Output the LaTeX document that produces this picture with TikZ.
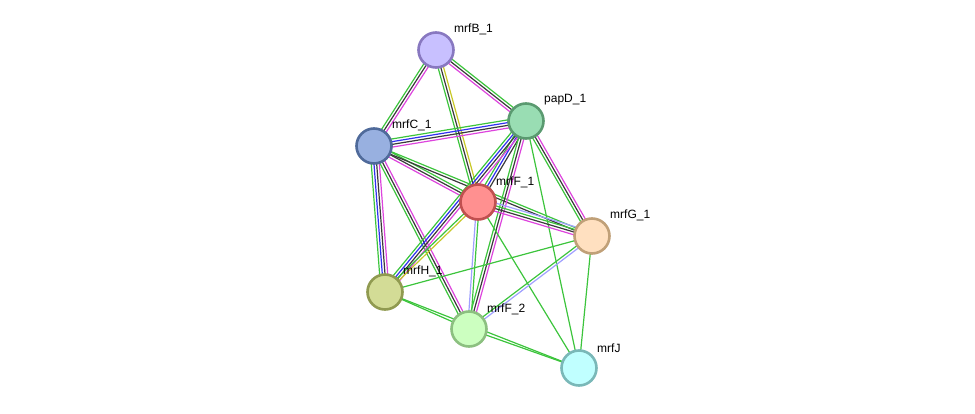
\documentclass[tikz,border=0pt]{standalone}
\usepackage{fontspec}
\setsansfont{Liberation Sans}
\usetikzlibrary{calc, backgrounds}

\definecolor{evgreen}{HTML}{3CC43C}
\definecolor{evblack}{HTML}{3A3A3A}
\definecolor{evmagenta}{HTML}{DD44DD}
\definecolor{evblue}{HTML}{3030F0}
\definecolor{evlight}{HTML}{A0A0FF}
\definecolor{evyellow}{HTML}{C8C828}

\definecolor{ProteinB}{HTML}{C8C0FF}
\definecolor{ProteinBd}{HTML}{8878C0}
\definecolor{ProteinD}{HTML}{99DDB3}
\definecolor{ProteinDd}{HTML}{5A9A70}
\definecolor{ProteinC}{HTML}{98B0E0}
\definecolor{ProteinCd}{HTML}{4F6A9A}
\definecolor{ProteinF}{HTML}{FF9090}
\definecolor{ProteinFd}{HTML}{C05050}
\definecolor{ProteinG}{HTML}{FFE0C0}
\definecolor{ProteinGd}{HTML}{C0A078}
\definecolor{ProteinH}{HTML}{D3DC96}
\definecolor{ProteinHd}{HTML}{909A50}
\definecolor{ProteinFF}{HTML}{CCFFC0}
\definecolor{ProteinFFd}{HTML}{8CC080}
\definecolor{ProteinJ}{HTML}{C0FFFF}
\definecolor{ProteinJd}{HTML}{7AB8B8}

% n parallel evidence lines between two proteins
\newcommand\link[4]{%
  \foreach \c [count=\i] in {#4} {
    \pgfmathsetmacro\off{(\i-(#3+1)/2)*2.7}
    \draw[evidence, \c] ($(#1.center)!\off pt!90:(#2.center)$) -- ($(#2.center)!\off pt!-90:(#1.center)$);
  }%
}

\begin{document}
\begin{tikzpicture}[
    x=1pt, y=-1pt,
    protein/.style={draw, circle, line width=2.6pt, minimum size=35pt, inner sep=0pt},
    tag/.style={anchor=west, inner sep=0pt, font=\sffamily\fontsize{12}{14}\selectfont},
    evidence/.style={line width=1.2pt}
]
    \useasboundingbox (0,0) rectangle (975,414);

    \node[protein, fill=ProteinB, draw=ProteinBd] (mrfB) at (436,50) {};
    \node[protein, fill=ProteinD, draw=ProteinDd] (papD) at (526,121) {};
    \node[protein, fill=ProteinC, draw=ProteinCd] (mrfC) at (374,146) {};
    \node[protein, fill=ProteinF, draw=ProteinFd] (mrfF1) at (478,202) {};
    \node[protein, fill=ProteinG, draw=ProteinGd] (mrfG) at (592,236) {};
    \node[protein, fill=ProteinH, draw=ProteinHd] (mrfH) at (385,292) {};
    \node[protein, fill=ProteinFF, draw=ProteinFFd] (mrfF2) at (469,329) {};
    \node[protein, fill=ProteinJ, draw=ProteinJd] (mrfJ) at (579,368) {};

    \node[tag] at ($(mrfB)+(18,-21)$) {mrfB\_1};
    \node[tag] at ($(papD)+(18,-21)$) {papD\_1};
    \node[tag] at ($(mrfC)+(18,-21)$) {mrfC\_1};
    \node[tag] at ($(mrfF1)+(18,-20)$) {mrfF\_1};
    \node[tag] at ($(mrfG)+(18,-21)$) {mrfG\_1};
    \node[tag] at ($(mrfH)+(18,-21)$) {mrfH\_1};
    \node[tag] at ($(mrfF2)+(18,-20)$) {mrfF\_2};
    \node[tag] at ($(mrfJ)+(18,-20)$) {mrfJ};

    \begin{pgfonlayer}{background}
    \link{mrfB}{mrfC}{3}{evgreen, evblack, evmagenta}
    \link{mrfB}{papD}{3}{evmagenta, evblack, evgreen}
    \link{mrfB}{mrfF1}{3}{evgreen, evblack, evyellow}
    \link{mrfC}{papD}{4}{evmagenta, evblack, evblue, evgreen}
    \link{mrfC}{mrfF1}{3}{evmagenta, evblack, evgreen}
    \link{mrfC}{mrfG}{2}{evblack, evgreen}
    \link{mrfC}{mrfH}{4}{evgreen, evblue, evblack, evmagenta}
    \link{mrfC}{mrfF2}{3}{evgreen, evblack, evmagenta}
    \link{papD}{mrfF1}{3}{evgreen, evblue, evblack}
    \link{papD}{mrfH}{4}{evgreen, evblue, evblack, evmagenta}
    \link{papD}{mrfF2}{3}{evgreen, evblack, evmagenta}
    \link{papD}{mrfG}{3}{evgreen, evblack, evmagenta}
    \link{papD}{mrfJ}{1}{evgreen}
    \link{mrfF1}{mrfG}{4}{evmagenta, evblack, evgreen, evlight}
    \link{mrfF1}{mrfF2}{2}{evlight, evgreen}
    \link{mrfF1}{mrfH}{2}{evgreen, evyellow}
    \link{mrfF1}{mrfJ}{1}{evgreen}
    \link{mrfG}{mrfH}{1}{evgreen}
    \link{mrfG}{mrfF2}{2}{evgreen, evlight}
    \link{mrfG}{mrfJ}{1}{evgreen}
    \link{mrfH}{mrfF2}{1}{evgreen}
    \link{mrfF2}{mrfJ}{1}{evgreen}
    \link{mrfH}{mrfJ}{1}{evgreen}
    \end{pgfonlayer}
\end{tikzpicture}
\end{document}
